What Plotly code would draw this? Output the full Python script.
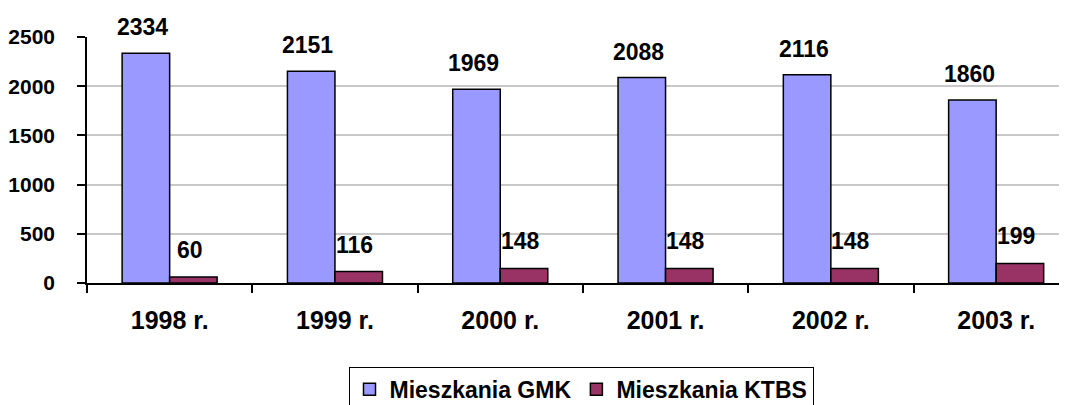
import plotly.graph_objects as go

categories = ["1998 r.", "1999 r.", "2000 r.", "2001 r.", "2002 r.", "2003 r."]
gmk_values = [2334, 2151, 1969, 2088, 2116, 1860]
ktbs_values = [60, 116, 148, 148, 148, 199]
series_names = ["Mieszkania GMK", "Mieszkania KTBS"]
y_ticks = [0, 500, 1000, 1500, 2000, 2500]

FONT = "Liberation Sans, Arial, sans-serif"
GMK_COLOR = "#9999FF"
KTBS_COLOR = "#993366"

fig = go.Figure()
fig.add_trace(go.Bar(
    x=categories, y=gmk_values, name=series_names[0],
    marker=dict(color=GMK_COLOR, line=dict(color="black", width=1.5)),
))
fig.add_trace(go.Bar(
    x=categories, y=ktbs_values, name=series_names[1],
    marker=dict(color=KTBS_COLOR, line=dict(color="black", width=1.5)),
))

# value labels above bars
for cat, v in zip(categories, gmk_values):
    fig.add_annotation(x=cat, y=v, text=str(v), showarrow=False,
                       xshift=-27, yshift=26, yanchor="middle",
                       font=dict(family=FONT, size=23, color="black", weight="bold"))
for cat, v in zip(categories, ktbs_values):
    fig.add_annotation(x=cat, y=v, text=str(v), showarrow=False,
                       xshift=20, yshift=27, yanchor="middle",
                       font=dict(family=FONT, size=23, color="black", weight="bold"))

fig.update_layout(
    width=1067, height=405,
    margin=dict(l=79, r=0, t=29, b=130, pad=0),
    paper_bgcolor="white", plot_bgcolor="white",
    barmode="group", bargap=0.425, bargroupgap=0,
    font=dict(family=FONT, size=23, color="black", weight="bold"),
    showlegend=True,
    legend=dict(orientation="h", x=0.5, xanchor="center", y=-0.341, yanchor="top",
                bordercolor="black", borderwidth=1, bgcolor="white",
                font=dict(family=FONT, size=23, color="black", weight="bold"),
                itemwidth=30, tracegroupgap=0),
    xaxis=dict(
        type="category", range=[-0.5, 5.477],
        showline=True, linecolor="black", linewidth=1.5,
        ticks="outside", ticklen=8, tickcolor="black", tickwidth=1.5,
        tickson="boundaries", ticklabelstandoff=14,
        tickfont=dict(family=FONT, size=25, color="black", weight="bold"),
        showgrid=False, zeroline=False,
    ),
    yaxis=dict(
        range=[0, 2500], tickvals=y_ticks,
        showline=True, linecolor="black", linewidth=1.5,
        ticks="outside", ticklen=8, tickcolor="black", tickwidth=1.5,
        ticklabelstandoff=18,
        showgrid=True, gridcolor="#C8C8C8", gridwidth=1.5,
        zeroline=False,
        tickfont=dict(family=FONT, size=21, color="black", weight="bold"),
    ),
)

fig.write_html("out.html")
